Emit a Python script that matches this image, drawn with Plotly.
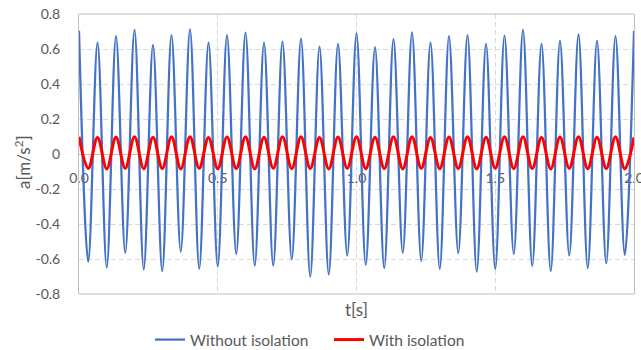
import plotly.graph_objects as go

# extremum times [s] (peak, trough, peak, ... )
t_ext = [0.0, 0.0333, 0.0667, 0.1, 0.1333, 0.1667, 0.2, 0.2333, 0.2667, 0.3,
         0.3333, 0.3667, 0.4, 0.4333, 0.4667, 0.5, 0.5333, 0.5667, 0.6, 0.6333,
         0.6667, 0.7, 0.7333, 0.7667, 0.8, 0.8333, 0.8667, 0.9, 0.9333, 0.9667,
         1.0, 1.0333, 1.0667, 1.1, 1.1333, 1.1667, 1.2, 1.2333, 1.2667, 1.3,
         1.3333, 1.3667, 1.4, 1.4333, 1.4667, 1.5, 1.5333, 1.5667, 1.6, 1.6333,
         1.6667, 1.7, 1.7333, 1.7667, 1.8, 1.8333, 1.8667, 1.9, 1.9333, 1.9667,
         2.0]

blue_peaks = [0.705, 0.636, 0.674, 0.709, 0.623, 0.680, 0.712, 0.636, 0.680, 0.693,
              0.636, 0.642, 0.660, 0.613, 0.629, 0.690, 0.610, 0.657, 0.695, 0.636,
              0.674, 0.680, 0.629, 0.676, 0.709, 0.629, 0.646, 0.684, 0.646, 0.674,
              0.703]
blue_troughs = [-0.615, -0.648, -0.564, -0.659, -0.669, -0.558, -0.655, -0.642, -0.571, -0.638,
                -0.638, -0.602, -0.701, -0.688, -0.581, -0.634, -0.653, -0.564, -0.610, -0.657,
                -0.567, -0.672, -0.657, -0.571, -0.640, -0.669, -0.581, -0.653, -0.625, -0.577]

red_peaks = [0.099, 0.095, 0.097, 0.099, 0.096, 0.098, 0.099, 0.095, 0.097, 0.099,
             0.096, 0.098, 0.099, 0.095, 0.097, 0.099, 0.096, 0.098, 0.099, 0.095,
             0.097, 0.099, 0.096, 0.098, 0.099, 0.095, 0.097, 0.099, 0.096, 0.098,
             0.095]
red_troughs = [-0.083, -0.085, -0.082, -0.084, -0.083, -0.085, -0.082, -0.084, -0.083, -0.085,
               -0.082, -0.084, -0.083, -0.085, -0.082, -0.084, -0.083, -0.085, -0.082, -0.084,
               -0.083, -0.085, -0.082, -0.084, -0.083, -0.085, -0.082, -0.084, -0.083, -0.085]

y_tickvals = [-0.8, -0.6, -0.4, -0.2, 0, 0.2, 0.4, 0.6, 0.8]
y_ticktext = ["-0.8", "-0.6", "-0.4", "-0.2", "0", "0.2", "0.4", "0.6", "0.8"]
x_tickvals = [0.0, 0.5, 1.0, 1.5, 2.0]
x_ticktext = ["0.0", "0.5", "1.0", "1.5", "2.0"]


def interleave(peaks, troughs):
    out = []
    for i, p in enumerate(peaks):
        out.append(p)
        if i < len(troughs):
            out.append(troughs[i])
    return out


blue = interleave(blue_peaks, blue_troughs)
red = interleave(red_peaks, red_troughs)

FONT = "Lato"
GRAY = "#595959"

fig = go.Figure()
fig.add_trace(go.Scatter(x=t_ext, y=blue, mode="lines", name="Without isolation",
                         line=dict(color="#4472C4", width=2.25, shape="spline", smoothing=1)))
fig.add_trace(go.Scatter(x=t_ext, y=red, mode="lines", name="With isolation",
                         line=dict(color="#FF0000", width=3, shape="spline", smoothing=1)))

fig.update_layout(
    width=641, height=350,
    margin=dict(l=79, r=7, t=14, b=56, autoexpand=False),
    paper_bgcolor="white", plot_bgcolor="white",
    font=dict(family=FONT, size=14, color=GRAY),
    showlegend=True,
    legend=dict(orientation="h", xref="container", yref="container",
                x=150 / 641, y=10 / 350, xanchor="left", yanchor="middle",
                font=dict(family=FONT, size=15.5, color=GRAY), entrywidth=134),
    xaxis=dict(range=[0, 2], tickvals=x_tickvals, ticktext=x_ticktext,
               anchor="free", position=0.5, showline=True, linecolor="#BFBFBF", linewidth=1,
               showgrid=True, gridcolor="#D9D9D9", griddash="5px,3px", gridwidth=1,
               zeroline=False, ticks="", ticklabelstandoff=11, layer="below traces",
               ticklabeloverflow="allow",
               tickfont=dict(family=FONT, size=14, color=GRAY)),
    yaxis=dict(range=[-0.8, 0.8], tickvals=y_tickvals, ticktext=y_ticktext,
               showline=True, mirror=True, linecolor="#BFBFBF", linewidth=1,
               showgrid=True, gridcolor="#D9D9D9", griddash="5px,3px", gridwidth=1,
               zeroline=False, ticks="", ticklabelstandoff=15,
               tickfont=dict(family=FONT, size=14, color=GRAY)),
    shapes=[
        dict(type="line", xref="paper", yref="paper", x0=0, x1=1, y0=1, y1=1,
             line=dict(color="#BFBFBF", width=1)),
        dict(type="line", xref="paper", yref="paper", x0=0, x1=1, y0=0, y1=0,
             line=dict(color="#BFBFBF", width=1)),
    ],
    annotations=[
        dict(text="t[s]", xref="paper", yref="paper", x=0.5, y=-0.057,
             showarrow=False, xanchor="center", yanchor="middle",
             font=dict(family=FONT, size=17, color=GRAY)),
        dict(text="a[m/s<sup>2</sup>]", xref="paper", yref="paper", x=-0.103, y=0.471,
             showarrow=False, xanchor="center", yanchor="middle", textangle=-90,
             font=dict(family=FONT, size=17, color=GRAY)),
    ],
)

fig.write_html("out.html")
